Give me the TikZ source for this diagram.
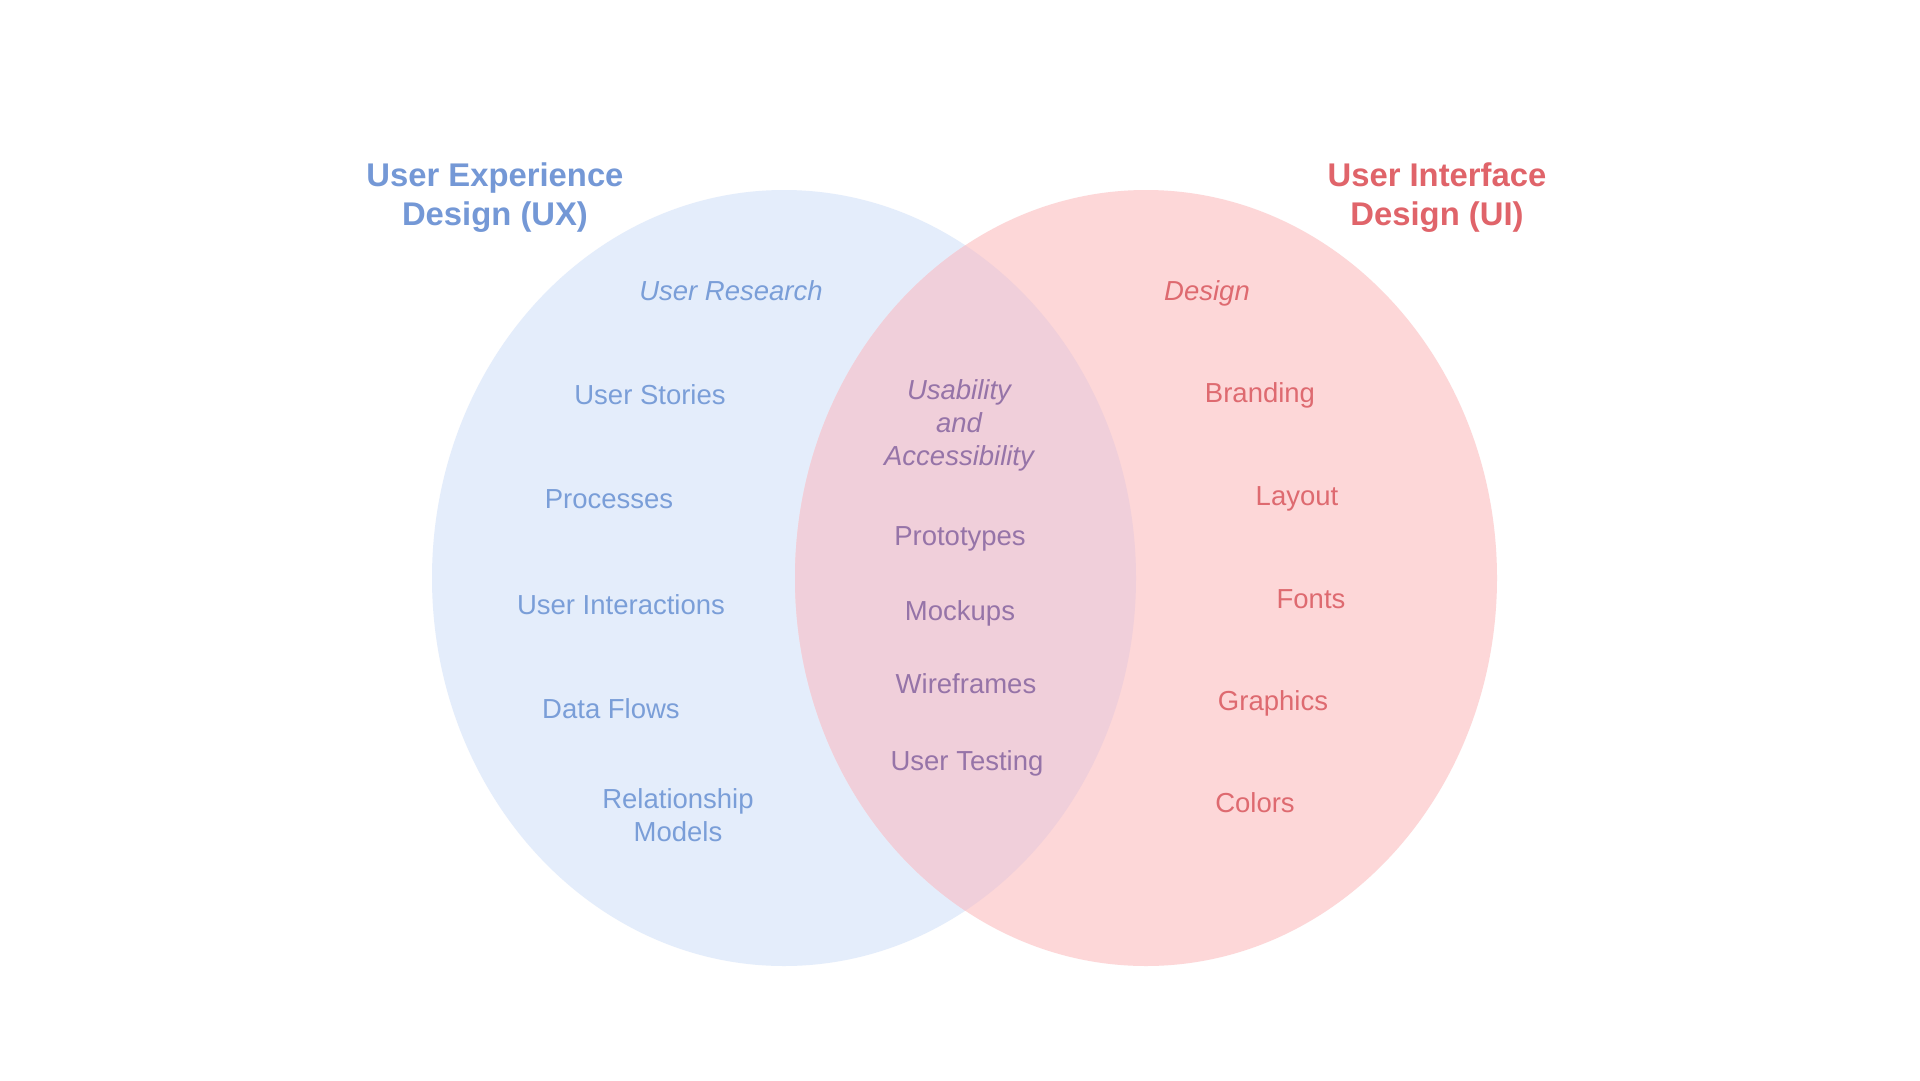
\documentclass[tikz,border=0pt]{standalone}
\usepackage{fontspec}
\setmainfont{Liberation Sans}
\definecolor{uxfill}{RGB}{228,237,251}
\definecolor{uifill}{RGB}{253,215,216}
\definecolor{bothfill}{RGB}{240,207,218}
\definecolor{uxtext}{RGB}{122,158,216}
\definecolor{uxtitle}{RGB}{116,152,214}
\definecolor{uitext}{RGB}{222,106,112}
\definecolor{uititle}{RGB}{224,100,106}
\definecolor{bothtext}{RGB}{150,116,168}
\tikzset{
  titlelbl/.style={font=\fontsize{32.8bp}{39bp}\selectfont\bfseries, align=center, inner sep=0pt},
  itemlbl/.style={font=\fontsize{27.5bp}{33bp}\selectfont, align=center, inner sep=0pt, text height=0.72em, text depth=0.21em},
  itemit/.style={itemlbl, font=\fontsize{27.5bp}{33bp}\selectfont\itshape},
  uxl/.style={text=uxtext},
  uil/.style={text=uitext},
  bothl/.style={text=bothtext}
}
\begin{document}
\begin{tikzpicture}[x=1bp,y=-1bp]
\useasboundingbox (0,0) rectangle (1920,1080);
\fill[white] (0,0) rectangle (1920,1080);
% circles
\fill[uxfill] (784,578) ellipse [x radius=352, y radius=388];
\fill[uifill] (1146,578) ellipse [x radius=351, y radius=388];
\begin{scope}
  \clip (784,578) ellipse [x radius=352, y radius=388];
  \fill[bothfill] (1146,578) ellipse [x radius=351, y radius=388];
\end{scope}
% titles
\node[titlelbl, text=uxtitle] (uxtitle) at (495,198) {User Experience\\Design (UX)};
\node[titlelbl, text=uititle] (uititle) at (1437,198) {User Interface\\Design (UI)};
% UX items
\node[itemit, uxl] (ures) at (731,298) {User Research};
\node[itemlbl, uxl] (ustor) at (650,402) {User Stories};
\node[itemlbl, uxl] (proc) at (609,506) {Processes};
\node[itemlbl, uxl] (uint) at (621,612) {User Interactions};
\node[itemlbl, uxl] (dflow) at (611,716) {Data Flows};
\node[itemlbl, uxl, text height=, text depth=] (relm) at (678,815) {Relationship\\Models};
% overlap items
\node[itemit, bothl, text height=, text depth=] (usab) at (959,425) {Usability\\and\\Accessibility};
\node[itemlbl, bothl] (proto) at (960,543) {Prototypes};
\node[itemlbl, bothl] (mock) at (960,618) {Mockups};
\node[itemlbl, bothl] (wire) at (966,691) {Wireframes};
\node[itemlbl, bothl] (utest) at (967,768) {User Testing};
% UI items
\node[itemit, uil] (design) at (1207,298) {Design};
\node[itemlbl, uil] (brand) at (1260,400) {Branding};
\node[itemlbl, uil] (layout) at (1297,503) {Layout};
\node[itemlbl, uil] (fonts) at (1311,606) {Fonts};
\node[itemlbl, uil] (graph) at (1273,708) {Graphics};
\node[itemlbl, uil] (colors) at (1255,810) {Colors};
\end{tikzpicture}
\end{document}
